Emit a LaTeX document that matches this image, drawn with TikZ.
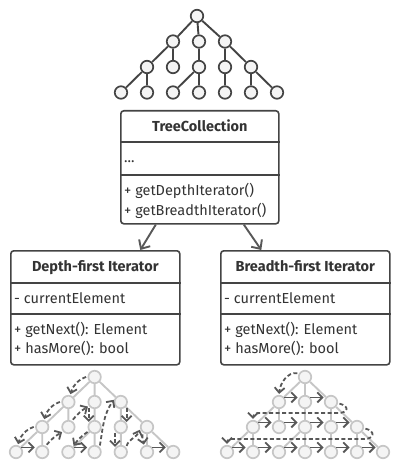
\documentclass[tikz,border=0pt]{standalone}
\usepackage{fontspec}
\setmainfont{Fira Sans}
\usetikzlibrary{arrows.meta,calc}
\definecolor{ink}{HTML}{444444}
\definecolor{txt}{HTML}{333333}
\definecolor{lite}{HTML}{C6C6C6}
\definecolor{nfill}{HTML}{F4F4F4}
\definecolor{trv}{HTML}{585858}
\newcommand\mytree[8]{% #1 prefix, #2 node style, #3 edge style, #4 x0, #5 dx, #6 y0, #7 dy, #8 root x
  \node[#2] (#1r) at (#8,#6) {};
  \foreach \c in {2,3,4} {\node[#2] (#1a\c) at ({#4+\c*#5},{#6-#7}) {};}
  \foreach \c in {1,...,5} {\node[#2] (#1b\c) at ({#4+\c*#5},{#6-2*#7}) {};}
  \foreach \c in {0,...,6} {\node[#2] (#1c\c) at ({#4+\c*#5},{#6-3*#7}) {};}
  \draw[#3] (#1r) -- (#1a2) (#1r) -- (#1a3) (#1r) -- (#1a4)
    (#1a2) -- (#1b1) (#1a2) -- (#1b2) (#1a3) -- (#1b3) (#1a4) -- (#1b4) (#1a4) -- (#1b5)
    (#1b1) -- (#1c0) (#1b1) -- (#1c1) (#1b3) -- (#1c2) (#1b3) -- (#1c3)
    (#1b4) -- (#1c4) (#1b5) -- (#1c5) (#1b5) -- (#1c6);
}
\begin{document}
\begin{tikzpicture}[x=1pt,y=1pt,font=\fontsize{14.5}{18}\selectfont,text=txt,
  tnode/.style={circle,draw=ink,fill=nfill,line width=1.7pt,minimum size=12.5pt,inner sep=0pt},
  tedge/.style={draw=ink,line width=1.9pt},
  lnode/.style={circle,draw=lite,fill=nfill,line width=1.7pt,minimum size=12.5pt,inner sep=0pt},
  ledge/.style={draw=lite,line width=1.9pt},
  box/.style={draw=ink,fill=white,line width=1.6pt,rounded corners=3pt,inner sep=0pt,anchor=north west},
  sepline/.style={draw=ink,line width=1.6pt},
  ttl/.style={anchor=base,font=\fontsize{14.5}{18}\selectfont\bfseries,inner sep=0pt},
  mem/.style={anchor=base west,inner sep=0pt},
  bigarr/.style={draw=trv,line width=1.9pt,-{Straight Barb[length=7pt,width=13pt]}},
  trav/.style={draw=trv,line width=1.8pt,dash pattern=on 4pt off 2.5pt,-{Straight Barb[length=5pt,width=10pt]},shorten >=1pt,shorten <=1.5pt},
  harr/.style={draw=trv,line width=1.8pt,-{Straight Barb[length=5pt,width=10pt]},shorten >=2pt}]
\useasboundingbox (0,0) rectangle (400,-470);

% top tree
\mytree{T}{tnode}{tedge}{121}{26}{-16}{25.5}{197}

% TreeCollection
\node[box,minimum width=158pt,minimum height=113pt] (tc) at (120,-110) {};
\draw[sepline] ([yshift=-32pt]tc.north west) -- ([yshift=-32pt]tc.north east);
\draw[sepline] ([yshift=-65pt]tc.north west) -- ([yshift=-65pt]tc.north east);
\node[ttl] (tct) at ([yshift=-22pt]tc.north) {TreeCollection};
\node[mem] (tcf) at ([xshift=4pt,yshift=-53pt]tc.north west) {...};
\node[mem] (tcm1) at ([xshift=4pt,yshift=-86pt]tc.north west) {+ getDepthIterator()};
\node[mem] (tcm2) at ([xshift=4pt,yshift=-105pt]tc.north west) {+ getBreadthIterator()};

% Depth-first iterator
\node[box,minimum width=169pt,minimum height=114pt] (df) at (10,-250) {};
\draw[sepline] ([yshift=-33pt]df.north west) -- ([yshift=-33pt]df.north east);
\draw[sepline] ([yshift=-64pt]df.north west) -- ([yshift=-64pt]df.north east);
\node[ttl] (dft) at ([yshift=-21pt]df.north) {Depth-first Iterator};
\node[mem] (dff) at ([xshift=4pt,yshift=-53pt]df.north west) {- currentElement};
\node[mem] (dfm1) at ([xshift=4pt,yshift=-84pt]df.north west) {+ getNext(): Element};
\node[mem] (dfm2) at ([xshift=4pt,yshift=-103pt]df.north west) {+ hasMore(): bool};

% Breadth-first iterator
\node[box,minimum width=169pt,minimum height=114pt] (bf) at (220,-250) {};
\draw[sepline] ([yshift=-33pt]bf.north west) -- ([yshift=-33pt]bf.north east);
\draw[sepline] ([yshift=-64pt]bf.north west) -- ([yshift=-64pt]bf.north east);
\node[ttl] (bft) at ([yshift=-21pt]bf.north) {Breadth-first Iterator};
\node[mem] (bff) at ([xshift=4pt,yshift=-53pt]bf.north west) {- currentElement};
\node[mem] (bfm1) at ([xshift=4pt,yshift=-84pt]bf.north west) {+ getNext(): Element};
\node[mem] (bfm2) at ([xshift=4pt,yshift=-103pt]bf.north west) {+ hasMore(): bool};

% arrows
\draw[bigarr] ([xshift=-44pt]tc.south) -- ([xshift=45pt]df.north);
\draw[bigarr] ([xshift=44pt]tc.south) -- ([xshift=-44pt]bf.north);

% depth tree
\mytree{D}{lnode}{ledge}{16}{26.2}{-377}{25}{94.6}
\draw[trav] (Dr.175) to[out=200,in=75] (Da2.75);
\draw[trav] (Da2.175) to[out=200,in=75] (Db1.75);
\draw[trav] (Db1.175) to[out=200,in=75] (Dc0.75);
\draw[harr] (Dc0.40) -- (Dc1.140);
\draw[trav] (Dc1.60) to[bend left=10] (Db2.220);
\draw[trav] (Db2.60) to[bend left=10] (Da3.215);
\draw[trav] (Da3.215) -- (Db3.145);
\draw[trav] (Db3.215) to[bend right=10] (Dc2.50);
\draw[harr] (Dc2.40) -- (Dc3.140);
\draw[trav] (Dc3.45) to[out=80,in=235] (Da4.155);
\draw[trav] (Da4.-35) -- (Db4.35);
\draw[trav] (Db4.215) -- (Dc4.145);
\draw[trav] (Dc4.40) to[out=75,in=250] (Db5.195);
\draw[trav] (Db5.235) to[out=255,in=100] (Dc5.115);
\draw[harr] (Dc5.40) -- (Dc6.140);

% breadth tree
\mytree{B}{lnode}{ledge}{227}{26}{-377}{25}{305}
\draw[trav] (Br.150) to[out=170,in=85] (Ba2.north);
\draw[harr] (Ba2.40) -- (Ba3.140);
\draw[harr] (Ba3.40) -- (Ba4.140);
\draw[trav] (Ba4.-10) .. controls +(12,-3) and +(10,0) .. ([yshift=14pt]Bb4.east)
  -- ([xshift=8pt,yshift=14pt]Bb1.center) .. controls +(-6,0) and +(0,6) .. (Bb1.north);
\draw[harr] (Bb1.40) -- (Bb2.140);
\draw[harr] (Bb2.40) -- (Bb3.140);
\draw[harr] (Bb3.40) -- (Bb4.140);
\draw[harr] (Bb4.40) -- (Bb5.140);
\draw[trav] (Bb5.-10) .. controls +(12,-3) and +(10,0) .. ([yshift=13pt]Bc5.east)
  -- ([xshift=8pt,yshift=13pt]Bc0.center) .. controls +(-6,0) and +(0,6) .. (Bc0.north);
\draw[harr] (Bc0.40) -- (Bc1.140);
\draw[harr] (Bc1.40) -- (Bc2.140);
\draw[harr] (Bc2.40) -- (Bc3.140);
\draw[harr] (Bc3.40) -- (Bc4.140);
\draw[harr] (Bc4.40) -- (Bc5.140);
\draw[harr] (Bc5.40) -- (Bc6.140);
\end{tikzpicture}
\end{document}
